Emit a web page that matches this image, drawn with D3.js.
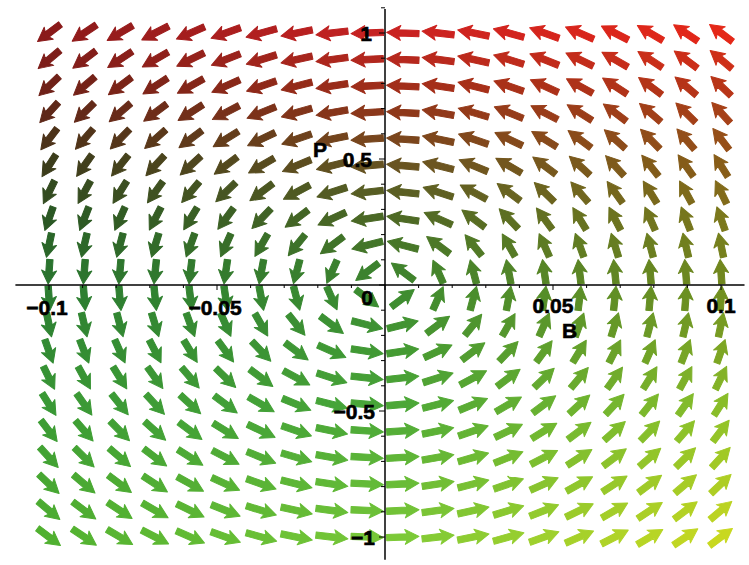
<!DOCTYPE html>
<html>
<head>
<meta charset="utf-8">
<script src="https://cdn.jsdelivr.net/npm/d3@7"></script>
<style>
  body { margin: 0; background: #fff; }
  text { font-family: "Liberation Sans", Arial, sans-serif; font-weight: bold; font-size: 21px; fill: #000; stroke: #000; stroke-width: 0.6px; }
</style>
</head>
<body>
<div id="c_plot"></div>
<script>
// grid of the direction field (B across, P up)
var bGrid = [-0.1, -0.0895, -0.0789, -0.0684, -0.0579, -0.0474, -0.0368, -0.0263, -0.0158, -0.0053,
             0.0053, 0.0158, 0.0263, 0.0368, 0.0474, 0.0579, 0.0684, 0.0789, 0.0895, 0.1];
var pGrid = [-1, -0.8947, -0.7895, -0.6842, -0.5789, -0.4737, -0.3684, -0.2632, -0.1579, -0.0526,
             0.0526, 0.1579, 0.2632, 0.3684, 0.4737, 0.5789, 0.6842, 0.7895, 0.8947, 1];

// system: dB/dt = coefBP * P , dP/dt = coefPB * B
var coefBP = -1;
var coefPB = 100;

var xTickLabels = [-0.1, -0.05, 0.05, 0.1];
var yTickLabels = [1, 0.5, -0.5, -1];

// colour stops per P level, for the left, middle and right columns
var colorP = [1, 0.75, 0.5, 0.25, 0, -0.5, -1];
var colorLeft = ["#8a1a1a", "#6a2218", "#3e3a1a", "#2a5a25", "#2a7a30", "#3a9a35", "#50b030"];
var colorMid = ["#c82222", "#9a3018", "#6a5020", "#4a6a25", "#3a8a30", "#4aa838", "#78c838"];
var colorRight = ["#e42818", "#b03818", "#8a5a18", "#7a7a1c", "#6e8a1e", "#8ac02a", "#c8d820"];

var W = 749, H = 565;

var x = d3.scaleLinear().domain([-0.1, 0.1]).range([49, 721]);
var y = d3.scaleLinear().domain([-1, 1]).range([537, 33]);

var svg = d3.select("#c_plot").append("svg")
  .attr("width", W)
  .attr("height", H);

var cP = d3.scaleLinear().domain(colorP).clamp(true).interpolate(d3.interpolateRgb);
var cLeft = cP.copy().range(colorLeft);
var cMid = cP.copy().range(colorMid);
var cRight = cP.copy().range(colorRight);

function colorAt(b, p) {
  var u = b / 0.1;
  if (u < 0) return d3.interpolateRgb(cMid(p), cLeft(p))(-u);
  return d3.interpolateRgb(cMid(p), cRight(p))(u);
}

var cellW = x(bGrid[1]) - x(bGrid[0]);
var cellH = y(pGrid[0]) - y(pGrid[1]);
var dB = bGrid[1] - bGrid[0];
var dP = pGrid[1] - pGrid[0];

var arrows = [];
for (var i = 0; i < bGrid.length; i++) {
  for (var j = 0; j < pGrid.length; j++) {
    var b = bGrid[i], p = pGrid[j];
    var vb = coefBP * p, vp = coefPB * b;
    // direction in grid units
    var gx = vb / dB, gy = vp / dP;
    var n = Math.sqrt(gx * gx + gy * gy);
    gx /= n; gy /= n;
    var sx = gx * cellW * 0.92, sy = -gy * cellH * 0.92;
    arrows.push({
      b: b, p: p,
      len: Math.sqrt(sx * sx + sy * sy),
      ang: Math.atan2(sy, sx) * 180 / Math.PI,
      col: colorAt(b, p)
    });
  }
}

function arrowPath(L) {
  var hl = Math.min(12, L * 0.47), hw = 7.5, sw = 3.2;
  var a = -L / 2, e = L / 2;
  return "M" + a + "," + (-sw) +
    "L" + (e - hl) + "," + (-sw) +
    "L" + (e - hl - 2) + "," + (-hw) +
    "L" + e + ",0" +
    "L" + (e - hl - 2) + "," + hw +
    "L" + (e - hl) + "," + sw +
    "L" + a + "," + sw + "Z";
}

svg.append("g").selectAll("path")
  .data(arrows)
  .enter().append("path")
  .attr("d", function(d) { return arrowPath(d.len); })
  .attr("transform", function(d) {
    return "translate(" + x(d.b) + "," + y(d.p) + ") rotate(" + d.ang + ")";
  })
  .attr("fill", function(d) { return d.col; })
  .attr("stroke", function(d) { return d.col; })
  .attr("stroke-width", 1)
  .attr("stroke-linejoin", "round");

// axes through the origin
var gxa = svg.append("g").attr("transform", "translate(0," + y(0) + ")");
gxa.append("line")
  .attr("x1", x(-0.11)).attr("x2", x(0.107))
  .attr("stroke", "#000").attr("stroke-width", 1.5);
var xMinor = d3.range(-10, 11).map(function(k) { return k / 100; });
gxa.selectAll(".xt").data(xMinor).enter().append("line")
  .attr("x1", function(d) { return x(d); })
  .attr("x2", function(d) { return x(d); })
  .attr("y1", 0)
  .attr("y2", function(d) { return Math.abs(Math.round(d * 100)) % 5 == 0 ? 5 : 3; })
  .attr("stroke", "#000").attr("stroke-width", 1);

var gya = svg.append("g").attr("transform", "translate(" + x(0) + ",0)");
gya.append("line")
  .attr("y1", y(1.095)).attr("y2", y(-1.09))
  .attr("stroke", "#000").attr("stroke-width", 1.5);
var yMinor = d3.range(-10, 12).map(function(k) { return k / 10; });
gya.selectAll(".yt").data(yMinor).enter().append("line")
  .attr("y1", function(d) { return y(d); })
  .attr("y2", function(d) { return y(d); })
  .attr("x1", function(d) { return Math.abs(Math.round(d * 10)) % 5 == 0 ? -6 : -4; })
  .attr("x2", 0)
  .attr("stroke", "#000").attr("stroke-width", 1);

// tick labels
svg.selectAll(".xl").data(xTickLabels).enter().append("text")
  .attr("x", function(d) { return x(d) - (d < 0 ? 2 : 0); })
  .attr("y", function(d) { return d < 0 ? 315 : 313; })
  .attr("text-anchor", "middle")
  .text(function(d) { return d3.format("")(d); });

svg.append("text").attr("x", x(0) - 12).attr("y", 305).attr("text-anchor", "end").text("0");

svg.selectAll(".yl").data(yTickLabels).enter().append("text")
  .attr("x", function(d) { return x(0) - (d < 0 ? 10 : 13); })
  .attr("y", function(d) { return y(d) + 8; })
  .attr("text-anchor", "end")
  .text(function(d) { return d3.format("")(d); });

// axis names
svg.append("text").attr("x", 313).attr("y", 157).text("P");
svg.append("text").attr("x", 562).attr("y", 338).text("B");
</script>
</body>
</html>
